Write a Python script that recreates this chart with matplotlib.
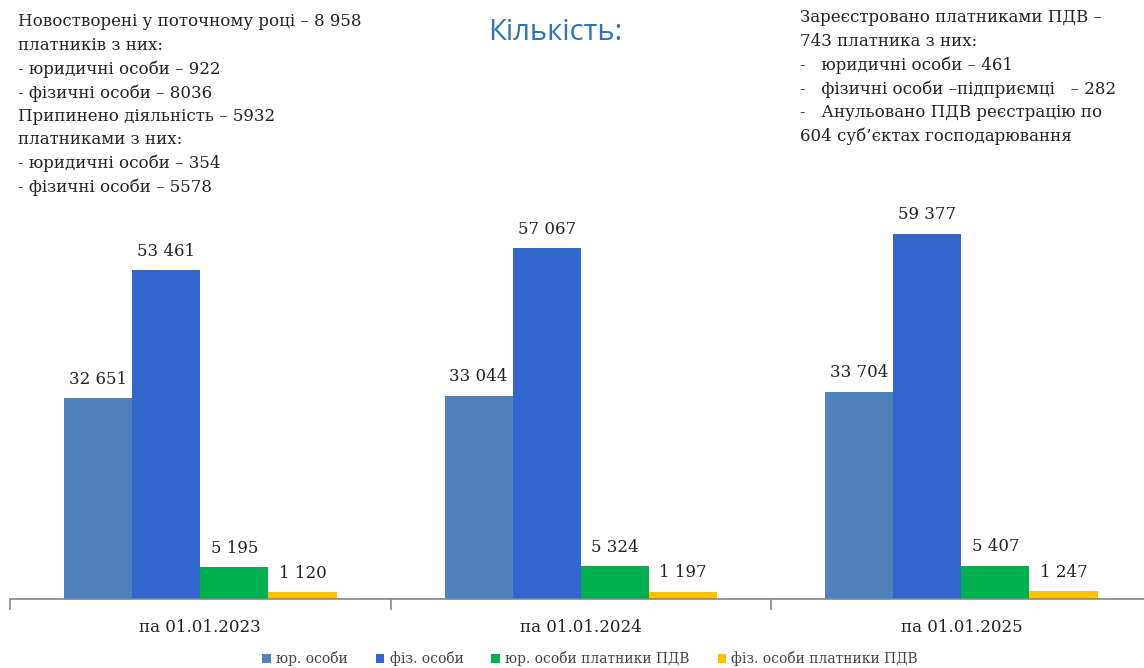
import matplotlib.pyplot as plt
import numpy as np

plt.rcParams['font.family'] = ['DejaVu Serif']

dates = ['па 01.01.2023', 'па 01.01.2024', 'па 01.01.2025']
series = ['юр. особи', 'фіз. особи', 'юр. особи платники ПДВ', 'фіз. особи платники ПДВ']
ur = [32651, 33044, 33704]
fiz = [53461, 57067, 59377]
ur_pdv = [5195, 5324, 5407]
fiz_pdv = [1120, 1197, 1247]
colors = ['#4F81BD', '#3366CC', '#00B050', '#FFC000']

left_note = ['Новостворені у поточному році – 8 958',
             'платників з них:',
             '- юридичні особи – 922',
             '- фізичні особи – 8036',
             'Припинено діяльність – 5932',
             'платниками з них:',
             '- юридичні особи – 354',
             '- фізичні особи – 5578']
right_note = ['Зареєстровано платниками ПДВ –',
              '743 платника з них:',
              '-   юридичні особи – 461',
              '-   фізичні особи –підприємці   – 282',
              '-   Анульовано ПДВ реєстрацію по',
              '604 суб’єктах господарювання']

W, H = 1144, 668
fig = plt.figure(figsize=(W / 100, H / 100), dpi=100)
ax = fig.add_axes([10 / W, 69 / H, 1134 / W, 599 / H])

x = np.arange(len(dates))
bw = 0.179
data = [ur, fiz, ur_pdv, fiz_pdv]
for i, (vals, c, name) in enumerate(zip(data, colors, series)):
    pos = x + (i - 1.5) * bw
    ax.bar(pos, vals, bw, color=c, label=name, zorder=2)
    for px, v in zip(pos, vals):
        ax.text(px, v + 1700, f'{v:,}'.replace(',', ' '), ha='center', va='bottom',
                fontsize=12, color='#222222')

ax.set_xlim(-0.5, 2.48)
ax.set_ylim(0, 97400)
for s in ['top', 'right', 'left']:
    ax.spines[s].set_visible(False)
ax.spines['bottom'].set_color('#888888')
ax.spines['bottom'].set_linewidth(1.2)
ax.set_yticks([])
ax.set_xticks([-0.5, 0.5, 1.5])
ax.set_xticklabels([])
ax.tick_params(axis='x', length=8, color='#888888', width=1.2)
for xi, d in zip(x, dates):
    ax.text(xi, -4600, d, ha='center', va='center', fontsize=12, color='#222222')

fig.legend(loc='lower center', bbox_to_anchor=(0.516, -0.016), ncol=4, frameon=False,
           fontsize=10, handlelength=0.6, handleheight=0.6, handletextpad=0.4,
           columnspacing=2.0, labelcolor='#444444')

fig.text(555 / W, 1 - 32 / H, 'Кількість:', ha='center', va='center', fontsize=21,
         color='#2E75B6', family=['Open Sans', 'DejaVu Sans'])

for k, line in enumerate(left_note):
    fig.text(18 / W, 1 - (22 + k * 23.6) / H, line, ha='left', va='center',
             fontsize=12, color='#222222')
for k, line in enumerate(right_note):
    fig.text(800 / W, 1 - (18 + k * 23.6) / H, line, ha='left', va='center',
             fontsize=12, color='#222222')

fig.savefig('out.png', dpi=100)
